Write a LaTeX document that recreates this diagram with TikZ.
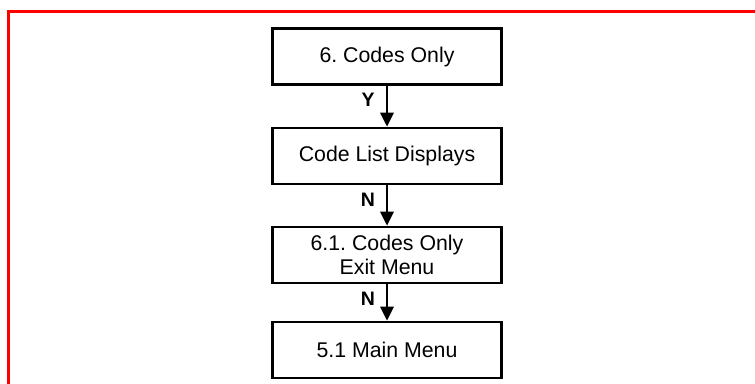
\documentclass[tikz,border=0pt]{standalone}
\usepackage{fontspec}
\setmainfont{Liberation Sans}
\usetikzlibrary{arrows.meta}
\frenchspacing
\begin{document}
\begin{tikzpicture}[x=1pt,y=-1pt,
  stepbox/.style={draw=black,line width=2.6pt,minimum width=229pt,minimum height=56pt,inner sep=0pt,align=center,font=\fontsize{21.3}{24}\selectfont},
  conn/.style={line width=2.8pt,-{Triangle[length=14pt,width=13pt]}},
  lbl/.style={font=\fontsize{19.5}{19.5}\selectfont\bfseries,inner sep=0pt}]
\useasboundingbox (0,0) rectangle (755,383);
\draw[red,line width=3pt] (8.5,390) -- (8.5,11) -- (760,11);
\node[stepbox] (b1) at (387,56.5) {6. Codes Only};
\node[stepbox] (b2) at (387,156) {Code List Displays};
\node[stepbox] (b3) at (387,255) {6.1. Codes Only\\Exit Menu};
\node[stepbox] (b4) at (387,350) {5.1 Main Menu};
\draw[conn] (b1.south) -- (b2.north);
\draw[conn] (b2.south) -- (b3.north);
\draw[conn] (b3.south) -- (b4.north);
\node[lbl] (l1) at (368,100) {Y};
\node[lbl] (l2) at (368,200) {N};
\node[lbl] (l3) at (368,299) {N};
\end{tikzpicture}
\end{document}
